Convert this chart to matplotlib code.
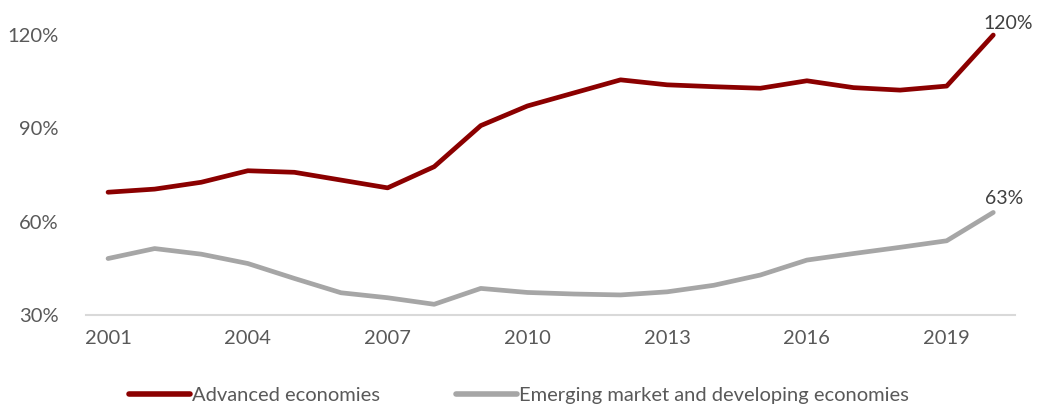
import numpy as np
import matplotlib
matplotlib.use('Agg')
import matplotlib.pyplot as plt

plt.rcParams['font.family'] = ['Lato', 'DejaVu Sans']

years = list(range(2001, 2021))
advanced = [69.5, 70.5, 72.7, 76.4, 75.9, 73.4, 70.9, 77.7, 90.9, 97.2,
            101.4, 105.6, 104.0, 103.4, 102.9, 105.3, 103.1, 102.3, 103.6, 120.0]
emerging = [48.2, 51.4, 49.6, 46.6, 41.8, 37.2, 35.6, 33.5, 38.6, 37.3,
            36.8, 36.5, 37.5, 39.6, 42.9, 47.7, 49.8, 51.8, 53.9, 63.0]
xticks = [2001, 2004, 2007, 2010, 2013, 2016, 2019]
yticks = [30, 60, 90, 120]

RED, GREY, TXT = '#8b0000', '#a6a6a6', '#595959'

fig = plt.figure(figsize=(10.38, 4.12), dpi=100)
ax = fig.add_axes([0.083, 0.235, 0.895, 0.68])
ax.plot(years, advanced, color=RED, lw=3.4, solid_capstyle='round', clip_on=False,
        label='Advanced economies')
ax.plot(years, emerging, color=GREY, lw=3.4, solid_capstyle='round', clip_on=False,
        label='Emerging market and developing economies')

ax.annotate(f'{advanced[-1]:.0f}%', (years[-1], advanced[-1]), xytext=(-7, 2),
            textcoords='offset points', ha='left', va='bottom', fontsize=14, color='#404040')
ax.annotate(f'{emerging[-1]:.0f}%', (years[-1], emerging[-1]), xytext=(8, 4),
            textcoords='offset points', ha='center', va='bottom', fontsize=14, color='#404040')

ax.set_xlim(2000.53, 2020.47)
ax.set_ylim(30, 120)
ax.set_xticks(xticks)
ax.set_yticks(yticks)
ax.set_yticklabels([f'{v}%' for v in yticks])
ax.tick_params(length=0, labelsize=14.5, labelcolor=TXT)
ax.tick_params(axis='x', pad=11)
ax.tick_params(axis='y', pad=20)
for s in ['top', 'right', 'left']:
    ax.spines[s].set_visible(False)
ax.spines['bottom'].set_color('#d9d9d9')
ax.spines['bottom'].set_linewidth(1.5)

leg = fig.legend(loc='lower center', bbox_to_anchor=(0.5, -0.025), ncol=2, frameon=False,
                 fontsize=14.5, handlelength=3.0, handletextpad=0.1, columnspacing=3.8)
for line in leg.get_lines():
    line.set_linewidth(4)
for t in leg.get_texts():
    t.set_color(TXT)
fig.savefig('out.png', dpi=100)
